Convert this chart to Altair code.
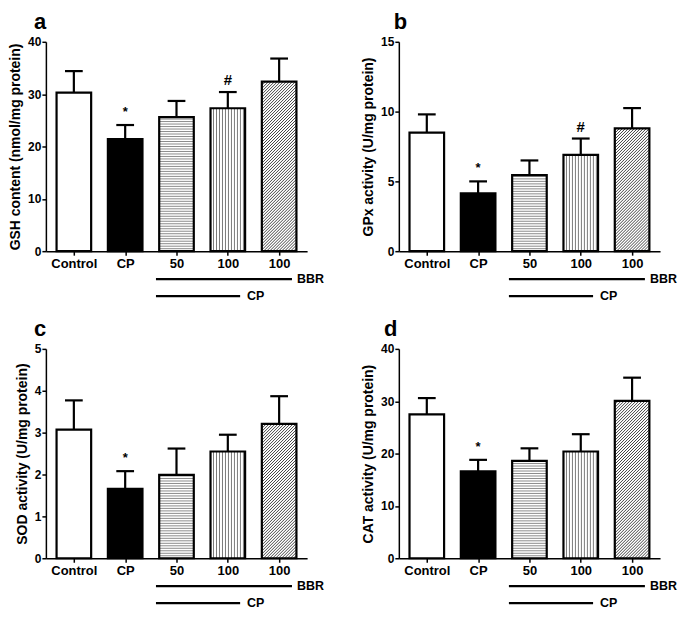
import json
import altair as alt
import pandas as pd

# ---------------- data ----------------
GROUPS = ["Control", "CP", "50", "100", "100"]

GSH = [30.3, 21.4, 25.6, 27.3, 32.4]
GSH_TOP = [34.4, 24.1, 28.7, 30.4, 36.8]

GPX = [8.5, 4.15, 5.45, 6.9, 8.8]
GPX_TOP = [9.8, 5.0, 6.5, 8.07, 10.25]

SOD = [3.07, 1.66, 1.99, 2.55, 3.21]
SOD_TOP = [3.77, 2.08, 2.62, 2.95, 3.87]

CAT = [27.5, 16.6, 18.6, 20.4, 30.05]
CAT_TOP = [30.6, 18.8, 21.0, 23.7, 34.5]

NOTES_AB = [(1, "*"), (3, "#")]
NOTES_CD = [(1, "*")]

FILLS = ["white", "black", "white", "white", "white"]
PATTERNS = [None, None, "h", "v", "d"]

# ---------------- layout constants ----------------
W, H = 262, 210
XMIN, XMAX = -0.545, 4.545
HALF = 0.337
CAP = 0.173
FONT = "Liberation Sans"
LABEL_EXPR = json.dumps(GROUPS) + "[datum.value]"


def pattern_rows(vals, ymax):
    ppx = W / (XMAX - XMIN)
    ppy = H / ymax
    rows = []
    for i, (v, p) in enumerate(zip(vals, PATTERNS)):
        lo, hi = i - HALF, i + HALF
        if p == "h":
            step = 2.5 / ppy
            y = step
            while y < v - 0.3 / ppy:
                rows.append(dict(x=lo, x2=hi, y=y, y2=y, c="#8c8c8c"))
                y += step
        elif p == "v":
            step = 3.0 / ppx
            x = lo + step
            while x < hi - 0.3 / ppx:
                rows.append(dict(x=x, x2=x, y=0, y2=v, c="#7a7a7a"))
                x += step
        elif p == "d":
            wb = (hi - lo) * ppx
            hb = v * ppy
            s = 3.0
            c = -wb + s
            while c < hb:
                xs = max(0.0, -c)
                ys = xs + c
                xe = min(wb, hb - c)
                ye = xe + c
                if xe > xs:
                    rows.append(dict(x=lo + xs / ppx, x2=lo + xe / ppx,
                                     y=ys / ppy, y2=ye / ppy, c="#444444"))
                c += s
    return pd.DataFrame(rows)


def panel(vals, tops, ymax, ystep, ytitle, letter, notes, letter_dx):
    bars = pd.DataFrame({
        "i": list(range(len(GROUPS))),
        "g": GROUPS,
        "v": vals,
        "top": tops,
        "zero": [0] * len(GROUPS),
        "lo": [i - HALF for i in range(len(GROUPS))],
        "hi": [i + HALF for i in range(len(GROUPS))],
        "clo": [i - CAP for i in range(len(GROUPS))],
        "chi": [i + CAP for i in range(len(GROUPS))],
        "fill": FILLS,
    })
    xsc = alt.Scale(domain=[XMIN, XMAX], nice=False, zero=False)
    ysc = alt.Scale(domain=[0, ymax], nice=False, zero=True)
    xaxis = alt.Axis(values=[0, 1, 2, 3, 4], labelExpr=LABEL_EXPR, title=None,
                     grid=False, labelFontSize=13, labelPadding=2, tickSize=4,
                     labelFlush=False)
    yvals = []
    t = 0
    while t <= ymax + 1e-9:
        yvals.append(t)
        t += ystep
    yaxis = alt.Axis(values=yvals, title=ytitle, grid=False, labelFontSize=12,
                     titleFontSize=14, titlePadding=5, labelPadding=1, tickSize=4)

    def X(f):
        return alt.X(f, scale=xsc, axis=xaxis)

    def Y(f):
        return alt.Y(f, scale=ysc, axis=yaxis)

    base = alt.Chart(bars)
    fill = base.mark_rect(strokeWidth=0).encode(
        x=X("lo:Q"), x2="hi:Q", y=Y("v:Q"), y2="zero:Q",
        color=alt.Color("fill:N", scale=None),
    )
    pat = alt.Chart(pattern_rows(vals, ymax)).mark_rule(strokeWidth=1).encode(
        x=X("x:Q"), x2="x2:Q", y=Y("y:Q"), y2="y2:Q",
        color=alt.Color("c:N", scale=None),
    )
    stem = base.mark_rule(color="black", strokeWidth=2.2).encode(
        x=X("i:Q"), y=Y("v:Q"), y2="top:Q")
    cap = base.mark_rule(color="black", strokeWidth=2.2).encode(
        x=X("clo:Q"), x2="chi:Q", y=Y("top:Q"))
    outline = base.mark_rect(fillOpacity=0, stroke="black", strokeWidth=2.2).encode(
        x=X("lo:Q"), x2="hi:Q", y=Y("v:Q"), y2="zero:Q",
    )
    layers = [fill, pat, stem, cap, outline]

    for idx, sym in notes:
        nd = pd.DataFrame({"i": [idx], "top": [tops[idx]], "s": [sym]})
        if sym == "*":
            txt = alt.Chart(nd).mark_text(fontSize=13, fontWeight="bold", dy=-9,
                                          baseline="alphabetic", font=FONT)
        else:
            txt = alt.Chart(nd).mark_text(fontSize=15, fontWeight="bold", dy=-7,
                                          baseline="alphabetic", font=FONT)
        layers.append(txt.encode(x=X("i:Q"), y=Y("top:Q"), text="s:N"))

    lines = pd.DataFrame({
        "lab": ["BBR", "CP"],
        "s": [2 - 0.40, 2 - 0.40],
        "e": [4 + 0.25, 3 + 0.24],
    })
    for k, (yoff, dx) in enumerate([(H + 28, 5), (H + 45, 7)]):
        one = alt.Chart(lines.iloc[[k]])
        layers.append(one.mark_rule(color="black", strokeWidth=2.2).encode(
            x=X("s:Q"), x2="e:Q", y=alt.value(yoff)))
        layers.append(one.mark_text(align="left", baseline="middle", dx=dx,
                                    fontSize=12.5, fontWeight="bold", font=FONT).encode(
            x=X("e:Q"), y=alt.value(yoff), text="lab:N"))

    return alt.layer(*layers).properties(
        width=W, height=H,
        title=alt.TitleParams(letter, anchor="start", frame="group", dx=letter_dx,
                              fontSize=22, fontWeight="bold", font=FONT, offset=2,
                              color="black"),
    )


pa = panel(GSH, GSH_TOP, 40, 10, "GSH content (nmol/mg protein)", "a", NOTES_AB, -12)
pb = panel(GPX, GPX_TOP, 15, 5, "GPx activity (U/mg protein)", "b", NOTES_AB, -5)
pc = panel(SOD, SOD_TOP, 5, 1, "SOD activity (U/mg protein)", "c", NOTES_CD, -12)
pd_ = panel(CAT, CAT_TOP, 40, 10, "CAT activity (U/mg protein)", "d", NOTES_CD, -15)

chart = alt.concat(pa, pb, pc, pd_, columns=2, bounds="flush",
                   spacing={"row": 98, "column": 92}).properties(
    padding={"left": 0, "top": 2, "right": 0, "bottom": 0}
).configure(font=FONT).configure_view(stroke=None).configure_axis(
    domainColor="black", domainWidth=1.5, tickColor="black", tickWidth=1.5,
    labelColor="black", titleColor="black", labelFont=FONT, titleFont=FONT,
    labelFontWeight="bold", titleFontWeight="bold",
)

chart.save("out.html", embed_options={"renderer": "svg", "actions": False})
